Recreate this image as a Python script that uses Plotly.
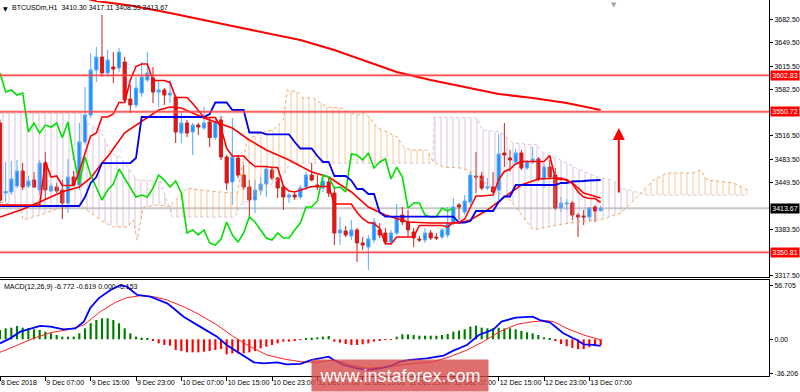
import plotly.graph_objects as go

# ------------------------------------------------------------------ data
title_text = "BTCUSDm,H1  3410.30 3417.11 3408.53 3413.67"
macd_text = "MACD(12,26,9) -6.772 -0.619 0.000 -6.153"

opens = [3534.9, 3435.2, 3436.7, 3445.2, 3466.5, 3445.2, 3453.7, 3439.5, 3477.9, 3438.1,
         3443.8, 3439.5, 3421.0, 3458.0, 3446.6, 3508.0, 3546.3, 3610.3, 3628.8, 3606.1,
         3614.6, 3613.2, 3621.7, 3569.0, 3560.5, 3577.6, 3596.1, 3598.9, 3579.0, 3581.9,
         3574.7, 3571.9, 3520.6, 3534.9, 3522.1, 3532.0, 3527.8, 3536.3, 3514.1, 3539.2,
         3486.5, 3450.9, 3485.1, 3460.8, 3443.8, 3425.3, 3439.5, 3448.0, 3468.0, 3456.6,
         3443.8, 3429.5, 3432.4, 3429.5, 3443.8, 3460.8, 3446.6, 3442.3, 3450.9, 3435.2,
         3378.3, 3381.2, 3374.1, 3382.6, 3364.1, 3358.4, 3368.3, 3382.6, 3378.3, 3365.5,
         3378.3, 3403.9, 3394.0, 3379.8, 3369.8, 3368.3, 3378.3, 3372.6, 3372.6, 3375.5,
         3392.5, 3418.2, 3408.2, 3422.4, 3459.4, 3459.4, 3442.3, 3443.8, 3439.5, 3492.2,
         3485.1, 3479.4, 3492.2, 3470.8, 3479.4, 3483.6, 3455.2, 3472.2, 3460.8, 3413.9,
         3419.6, 3421.0, 3403.9, 3402.5, 3401.1, 3415.3, 3410.30]
highs = [3540.0, 3479.4, 3480.8, 3482.2, 3477.9, 3459.4, 3465.1, 3482.2, 3493.6, 3449.5,
         3449.5, 3453.7, 3483.6, 3466.5, 3534.9, 3586.1, 3634.5, 3643.1, 3688.6, 3638.8,
         3636.0, 3641.6, 3628.8, 3588.9, 3600.4, 3621.7, 3636.0, 3614.6, 3596.1, 3584.7,
         3596.1, 3574.7, 3550.5, 3539.2, 3534.9, 3534.9, 3557.7, 3542.0, 3542.0, 3544.8,
         3489.3, 3542.0, 3489.3, 3475.1, 3453.7, 3453.7, 3458.0, 3472.2, 3470.8, 3458.0,
         3446.6, 3435.2, 3435.2, 3446.6, 3465.1, 3477.9, 3460.8, 3460.8, 3458.0, 3443.8,
         3401.1, 3388.3, 3396.8, 3385.4, 3372.6, 3375.5, 3399.6, 3392.5, 3385.4, 3382.6,
         3419.6, 3415.3, 3411.0, 3385.4, 3374.1, 3385.4, 3382.6, 3378.3, 3385.4, 3415.3,
         3428.1, 3421.0, 3432.4, 3465.1, 3493.6, 3465.1, 3456.6, 3465.1, 3519.2, 3534.9,
         3496.4, 3497.9, 3496.4, 3482.2, 3500.7, 3486.5, 3477.9, 3482.2, 3470.8, 3429.5,
         3426.7, 3423.9, 3406.8, 3411.0, 3415.3, 3418.2, 3417.11]
lows = [3420.0, 3422.4, 3432.4, 3442.3, 3439.5, 3442.3, 3442.3, 3432.4, 3425.3, 3436.7,
        3435.2, 3398.2, 3406.8, 3445.2, 3439.5, 3503.7, 3542.0, 3593.2, 3600.4, 3600.4,
        3591.8, 3607.5, 3564.7, 3549.1, 3556.2, 3571.9, 3593.2, 3563.3, 3557.7, 3560.5,
        3563.3, 3506.4, 3506.4, 3514.9, 3489.3, 3517.8, 3524.9, 3500.7, 3510.7, 3482.2,
        3439.5, 3418.2, 3456.6, 3439.5, 3401.1, 3406.8, 3432.4, 3429.5, 3453.7, 3428.1,
        3411.0, 3421.0, 3425.3, 3426.7, 3439.5, 3451.9, 3439.5, 3436.7, 3429.5, 3361.2,
        3361.2, 3372.6, 3368.3, 3337.0, 3354.1, 3325.6, 3364.1, 3371.2, 3361.2, 3361.2,
        3375.5, 3389.7, 3372.6, 3358.4, 3365.5, 3364.1, 3368.3, 3368.3, 3369.8, 3371.2,
        3389.7, 3396.8, 3403.9, 3418.2, 3435.2, 3439.5, 3439.5, 3435.2, 3425.3, 3472.2,
        3465.1, 3475.1, 3468.0, 3468.0, 3476.5, 3451.9, 3442.3, 3456.6, 3411.0, 3408.2,
        3411.0, 3396.8, 3372.6, 3389.7, 3394.0, 3394.0, 3408.53]
closes = [3425.0, 3437.5, 3455.2, 3466.5, 3443.8, 3452.3, 3443.8, 3477.9, 3439.5, 3445.2,
          3438.1, 3421.0, 3458.0, 3446.6, 3508.0, 3546.3, 3610.3, 3628.8, 3606.1, 3624.6,
          3611.8, 3635.9, 3567.6, 3560.5, 3584.7, 3600.4, 3606.1, 3579.0, 3581.9, 3574.7,
          3577.6, 3522.1, 3534.9, 3520.6, 3531.9, 3529.2, 3534.9, 3514.1, 3536.3, 3486.5,
          3449.5, 3486.5, 3460.8, 3443.8, 3425.3, 3439.5, 3448.0, 3469.4, 3456.6, 3442.3,
          3429.5, 3432.4, 3429.5, 3442.3, 3460.8, 3453.7, 3443.8, 3452.3, 3435.2, 3378.3,
          3382.6, 3375.5, 3382.6, 3364.1, 3361.2, 3369.8, 3394.0, 3375.5, 3365.5, 3378.3,
          3401.1, 3394.0, 3382.6, 3371.2, 3368.3, 3378.3, 3371.2, 3371.2, 3382.6, 3392.5,
          3415.3, 3415.3, 3423.9, 3460.8, 3458.0, 3442.3, 3443.8, 3436.7, 3490.7, 3489.3,
          3482.2, 3492.2, 3470.8, 3479.4, 3483.6, 3455.2, 3472.2, 3458.0, 3413.9, 3421.0,
          3421.0, 3403.9, 3401.1, 3401.1, 3413.9, 3409.6, 3413.67]

# Ichimoku values before the window can be computed
tenkan_pre = [3418.0, 3418.0, 3418.0, 3418.0, 3418.0, 3418.0, 3418.0, 3418.0]
kijun_pre = [3416.7, 3416.7, 3416.7, 3416.7, 3416.7, 3416.7, 3416.7, 3416.7, 3416.7, 3416.7,
             3416.7, 3416.7, 3416.7, 3416.7, 3416.7, 3429.5, 3449.5, 3458.0, 3477.9, 3477.9,
             3477.9, 3477.9, 3477.9, 3477.9, 3485.1]
tenkan_period = 9
kijun_period = 26
chikou_shift = 26

# Senkou spans (bar index, price), crossings shared
span_a_x = [0, 3.6, 4.1, 7.1, 10.6, 14.2, 17.7, 20.0, 22.5, 23.5, 24.2, 24.8, 25.3, 27.8, 29.8,
            33.1, 35.4, 40.6, 41.9, 43.6, 45.9, 48.2, 50.0, 50.7, 52.5, 53.5, 55.3, 56.5, 57.8,
            60.1, 61.8, 63.1, 64.1, 65.3, 66.6, 68.3, 70.1, 71.2, 72.4, 75.4, 76.4, 78.2, 81.2,
            82.5, 87.8, 90.0, 93.1, 94.1, 98.3, 101.9, 105.9, 109.5, 110.7, 113.0, 115.3, 117.8,
            122.3, 123.6, 124.8, 129.4, 131.9]
span_a_y = [3422.4, 3415.3, 3396.8, 3403.9, 3413.9, 3418.2, 3396.8, 3386.9, 3386.9, 3396.8,
            3368.3, 3394.0, 3415.3, 3418.2, 3415.8, 3442.3, 3439.5, 3435.2, 3435.2, 3510.7,
            3520.6, 3524.9, 3539.2, 3581.9, 3579.0, 3570.5, 3570.5, 3563.3, 3557.7, 3556.2,
            3549.1, 3546.3, 3550.5, 3542.0, 3527.8, 3522.1, 3514.9, 3500.7, 3496.4, 3496.4,
            3480.0, 3472.2, 3470.8, 3468.0, 3436.7, 3425.3, 3392.5, 3382.6, 3389.7, 3394.0,
            3396.8, 3406.8, 3415.3, 3434.5, 3453.7, 3463.7, 3463.7, 3468.0, 3453.7, 3449.5,
            3439.5]
span_b_x = [0, 15.1, 15.4, 17.7, 19.5, 21.2, 24.2, 28.3, 29.8, 30.4, 41.5, 42.4, 44.2, 47.7,
            50.0, 51.2, 76.2, 76.4, 76.6, 84.2, 85.1, 88.3, 89.5, 90.6, 94.8, 95.9, 98.9, 102.4,
            105.9, 108.2, 109.5, 113.0, 114.2, 121.3, 131.9]
span_b_y = [3549.1, 3549.1, 3534.9, 3524.9, 3492.2, 3486.5, 3453.7, 3452.3, 3415.8, 3401.1,
            3401.1, 3418.2, 3425.3, 3446.6, 3460.8, 3477.9, 3477.9, 3480.0, 3543.4, 3542.0,
            3524.9, 3522.1, 3513.5, 3506.4, 3503.6, 3492.2, 3482.2, 3468.0, 3456.6, 3453.7,
            3442.3, 3434.5, 3432.4, 3432.4, 3432.4]
cloud_cross = [29.8, 76.4, 113.0]

# moving averages (bar index, price)
ma_x = [0, 4, 7, 11, 14, 16, 18, 19, 22, 25, 28, 30, 32, 34, 36, 41, 44, 47, 51, 55, 58, 62,
        65, 68, 72, 76, 81, 83, 86, 89, 92, 95, 99, 101, 103, 106]
ma_y = [3401.1, 3412.0, 3422.4, 3437.0, 3443.8, 3456.6, 3477.9, 3487.0, 3521.0, 3537.0,
        3553.4, 3557.7, 3556.2, 3549.1, 3542.0, 3527.8, 3510.7, 3496.4, 3482.2, 3465.1,
        3458.0, 3436.7, 3415.3, 3403.9, 3394.0, 3392.5, 3392.5, 3396.8, 3411.0, 3429.5,
        3446.6, 3455.2, 3456.6, 3449.5, 3435.2, 3428.1]
ma_long_x = [10, 17, 23, 30, 41, 53, 59, 65, 70, 76, 82, 88, 94, 100, 106]
ma_long_y = [3722.0, 3708.5, 3702.1, 3691.5, 3673.0, 3653.0, 3638.8, 3621.7, 3607.5, 3596.1,
             3586.1, 3576.1, 3570.5, 3563.3, 3553.4]

levels_red = [3602.83, 3550.72, 3350.81]
last_price = 3413.67
arrow_bar = 109.2
arrow_from = 3433.8
arrow_to = 3527.6

# MACD panel
macd_hist = [9.8, 11.5, 12.2, 14.0, 12.2, 11.5, 10.5, 9.8, 8.0, 6.3,
             4.5, 2.8, 2.8, 2.8, 6.3, 11.5, 16.8, 20.2, 22.0, 22.0,
             20.2, 16.8, 11.5, 6.3, 2.8, 1.7, 1.0, -1.7, -4.2, -5.9,
             -6.6, -11.2, -12.2, -13.6, -13.6, -13.6, -12.9, -12.2, -11.2, -10.1,
             -15.7, -14.7, -14.7, -14.7, -13.6, -12.2, -9.4, -7.7, -5.9, -4.2,
             -2.4, -2.4, -1.7, -0.7, 1.0, 1.7, 2.1, 2.8, 3.5, -2.4,
             -3.5, -4.9, -5.9, -5.9, -5.2, -4.2, -2.4, -1.4, -0.7, -0.3,
             2.8, 5.2, 5.2, 4.5, 3.8, 3.8, 3.8, 3.8, 4.5, 5.6,
             8.0, 9.1, 10.5, 13.3, 14.3, 12.2, 11.5, 11.5, 12.2, 11.5,
             11.5, 10.5, 8.7, 7.3, 6.3, 4.5, 2.1, 1.0, -1.9, -5.0,
             -7.2, -9.0, -10.3, -10.3, -8.2, -7.2, -6.153]
macd_x = [0, 1.8, 3.6, 5.4, 7.1, 8.9, 11.2, 13.3, 14.8, 15.9, 17.4, 19.5, 21.2, 22.4, 24.2,
          26.5, 29.5, 30.6, 32.4, 35.3, 38.3, 40.0, 42.4, 44.8, 46.5, 48.9, 50.6, 53.0, 55.0,
          56.5, 58.0, 58.9, 60.6, 63.0, 64.8, 67.1, 68.9, 70.6, 72.4, 75.3, 78.3, 80.0, 82.4,
          84.5, 87.1, 88.5, 91.0, 94.0, 95.3, 97.1, 99.4, 101.8, 103.0, 104.7, 106.0]
macd_y = [-4.2, 1.0, 8.0, 10.8, 14.0, 13.3, 10.5, 11.5, 18.5, 32.5, 42.9, 51.7, 56.7, 55.1,
          46.4, 44.7, 37.7, 32.5, 23.7, 13.3, 2.8, -5.9, -14.7, -24.1, -25.1, -24.1, -26.2,
          -25.6, -21.6, -19.9, -18.2, -21.6, -26.9, -30.4, -32.1, -30.4, -27.9, -23.4, -21.6,
          -19.9, -17.0, -11.9, -5.9, 4.5, 10.5, 18.5, 22.8, 23.7, 20.2, 17.5, 6.3, -0.7, -5.2,
          -5.9, -6.772]
signal_x = [0, 3.0, 5.9, 8.9, 11.8, 14.8, 17.7, 20.6, 22.4, 24.8, 27.1, 29.5, 32.4, 35.3,
            38.3, 41.2, 44.2, 47.1, 50.1, 53.0, 55.9, 58.9, 61.8, 64.8, 67.7, 70.6, 76.5, 79.4,
            82.4, 85.3, 88.2, 91.2, 94.1, 96.5, 97.7, 100.0, 103.0, 106.0]
signal_y = [-13.6, -5.9, 1.0, 7.0, 9.8, 15.0, 29.0, 39.4, 43.6, 45.7, 44.7, 41.2, 34.2, 25.5,
            15.0, 2.8, -7.7, -16.4, -20.6, -23.4, -24.1, -21.6, -26.9, -30.4, -29.3, -26.9,
            -23.4, -18.2, -11.2, -2.4, 8.0, 15.7, 18.5, 19.5, 18.5, 11.5, 4.5, -0.619]

tick_bars = [0, 8, 16, 24, 32, 40, 48, 56, 64, 72, 80, 88, 96, 104]
tick_labels = ["8 Dec 2018", "9 Dec 07:00", "9 Dec 15:00", "9 Dec 23:00", "10 Dec 07:00",
               "10 Dec 15:00", "10 Dec 23:00", "11 Dec 07:00", "11 Dec 15:00", "11 Dec 23:00",
               "12 Dec 07:00", "12 Dec 15:00", "12 Dec 23:00", "13 Dec 07:00"]
price_ticks = [3682.50, 3649.50, 3615.50, 3582.50, 3516.50, 3483.50, 3449.50, 3383.50, 3317.50]
macd_ticks = [56.705, 0.0, -36.206]
macd_tick_text = ["56.705", "0.00", "-36.206"]
watermark = "www.instaforex.com"

# ------------------------------------------------------------------ derived
n = len(closes)
bars = list(range(n))


def midline(period, i):
    return (max(highs[i - period + 1:i + 1]) + min(lows[i - period + 1:i + 1])) / 2


tenkan = tenkan_pre + [midline(tenkan_period, i) for i in range(len(tenkan_pre), n)]
kijun = kijun_pre + [midline(kijun_period, i) for i in range(len(kijun_pre), n)]
chikou_x = [i - chikou_shift for i in range(chikou_shift, n)]
chikou_y = closes[chikou_shift:]

FONT = "Liberation Sans, Arial, sans-serif"
FS = 7
ORANGE = "#F4A460"
THISTLE = "#D8BFD8"

fig = go.Figure()

# cloud regions (hatched)
bounds = [span_a_x[0]] + cloud_cross + [span_a_x[-1]]
for k in range(len(bounds) - 1):
    lo, hi = bounds[k], bounds[k + 1]
    ax_ = [x for x in span_a_x if lo <= x <= hi]
    ay_ = [y for x, y in zip(span_a_x, span_a_y) if lo <= x <= hi]
    bx_ = [x for x in span_b_x if lo <= x <= hi]
    by_ = [y for x, y in zip(span_b_x, span_b_y) if lo <= x <= hi]
    a_higher = sum(ay_) / len(ay_) > sum(by_) / len(by_)
    col = "rgba(244,164,96,0.6)" if a_higher else "rgba(200,160,200,0.6)"
    fig.add_trace(go.Scatter(
        x=bx_ + ax_[::-1], y=by_ + ay_[::-1], mode="lines", line=dict(width=0),
        fill="toself", fillcolor="rgba(0,0,0,0)",
        fillpattern=dict(shape="|", fgcolor=col, bgcolor="rgba(0,0,0,0)", size=6,
                         solidity=0.18, fillmode="replace"),
        hoverinfo="skip", xaxis="x", yaxis="y"))

fig.add_trace(go.Scatter(x=span_a_x, y=span_a_y, mode="lines",
                         line=dict(color=ORANGE, width=1, dash="dot"), xaxis="x", yaxis="y"))
fig.add_trace(go.Scatter(x=span_b_x, y=span_b_y, mode="lines",
                         line=dict(color=THISTLE, width=1, dash="dot"), xaxis="x", yaxis="y"))

fig.add_trace(go.Candlestick(
    x=bars, open=opens, high=highs, low=lows, close=closes,
    increasing=dict(fillcolor="#1E90FF", line=dict(color="#55AAFF", width=1)),
    decreasing=dict(fillcolor="#EE1111", line=dict(color="#C42222", width=1)),
    xaxis="x", yaxis="y"))

fig.add_trace(go.Scatter(x=ma_x, y=ma_y, mode="lines", line=dict(color="#FF0000", width=1.6),
                         xaxis="x", yaxis="y"))
fig.add_trace(go.Scatter(x=chikou_x, y=chikou_y, mode="lines", line=dict(color="#00E000", width=1.6),
                         xaxis="x", yaxis="y"))
fig.add_trace(go.Scatter(x=bars, y=kijun, mode="lines", line=dict(color="#0000EE", width=1.8),
                         xaxis="x", yaxis="y"))
fig.add_trace(go.Scatter(x=bars, y=tenkan, mode="lines", line=dict(color="#FF0000", width=1.6),
                         xaxis="x", yaxis="y"))
fig.add_trace(go.Scatter(x=ma_long_x, y=ma_long_y, mode="lines", line=dict(color="#FF0000", width=2),
                         xaxis="x", yaxis="y"))

# MACD
fig.add_trace(go.Bar(x=bars, y=macd_hist, width=0.38,
                     marker=dict(color=["#007A00" if v >= 0 else "#FF0000" for v in macd_hist],
                                 line=dict(width=0)),
                     xaxis="x2", yaxis="y2"))
fig.add_trace(go.Scatter(x=signal_x, y=signal_y, mode="lines", line=dict(color="#FF2020", width=1),
                         xaxis="x2", yaxis="y2"))
fig.add_trace(go.Scatter(x=macd_x, y=macd_y, mode="lines", line=dict(color="#0000FF", width=1.8),
                         xaxis="x2", yaxis="y2"))

shapes = [dict(type="line", xref="paper", x0=0, x1=1, yref="y", y0=last_price, y1=last_price,
               line=dict(color="#C8C8C8", width=2), layer="below")]
for lv in levels_red:
    shapes.append(dict(type="line", xref="paper", x0=0, x1=1, yref="y", y0=lv, y1=lv,
                       line=dict(color="rgba(255,120,120,0.45)", width=3), layer="above"))
    shapes.append(dict(type="line", xref="paper", x0=0, x1=1, yref="y", y0=lv, y1=lv,
                       line=dict(color="#FF2A2A", width=1), layer="above"))

annotations = [
    dict(xref="paper", yref="paper", x=0, y=1, xanchor="left", yanchor="top", xshift=10, yshift=-2,
         text=title_text, showarrow=False, font=dict(family=FONT, size=FS, color="black")),
    dict(xref="paper", yref="paper", x=0, y=1, xanchor="left", yanchor="top", xshift=1, yshift=-3,
         text="▼", showarrow=False, font=dict(family="DejaVu Sans", size=6, color="black")),
    dict(xref="paper", yref="paper", x=614 / 769, y=1, xanchor="center", yanchor="top", yshift=1,
         text="▼", showarrow=False, font=dict(family="DejaVu Sans", size=7, color="#A8A8A8")),
    dict(xref="paper", yref="y2 domain", x=0, y=1, xanchor="left", yanchor="top", xshift=2, yshift=-1,
         text=macd_text, showarrow=False, font=dict(family=FONT, size=FS, color="black")),
    dict(xref="x", yref="y", x=arrow_bar, y=arrow_to, axref="x", ayref="y", ax=arrow_bar, ay=arrow_from,
         text="", showarrow=True, arrowhead=2, arrowsize=1.2, arrowwidth=2, arrowcolor="#FF0000"),
]
for lv in levels_red:
    annotations.append(dict(xref="paper", yref="y", x=1, y=lv, xanchor="left", yanchor="middle",
                            xshift=1, text=f"{lv:.2f}", showarrow=False, bgcolor="#FF0000",
                            width=28, height=9, borderpad=0,
                            font=dict(family=FONT, size=FS, color="white")))
annotations.append(dict(xref="paper", yref="y", x=1, y=last_price, xanchor="left", yanchor="middle",
                        xshift=1, text=f"{last_price:.2f}", showarrow=False, bgcolor="#000000",
                        width=28, height=9, borderpad=0,
                        font=dict(family=FONT, size=FS, color="white")))
annotations.append(dict(xref="paper", yref="paper", x=400 / 769, y=-16 / 376, xanchor="center",
                        yanchor="bottom", text=watermark, showarrow=False,
                        bgcolor="rgba(214,70,70,0.78)", width=176, height=31, borderpad=0,
                        font=dict(family="Liberation Sans, Arial, sans-serif", size=18, color="white")))

xr = [0.0, 135.7]
axis_common = dict(showgrid=False, zeroline=False, showline=True, linecolor="#000000",
                   linewidth=1, mirror=True)
fig.update_layout(
    width=800, height=392,
    margin=dict(l=0, r=31, t=0, b=16, pad=0),
    paper_bgcolor="white", plot_bgcolor="white",
    showlegend=False, boxgap=0.25, boxgroupgap=0.25,
    font=dict(family=FONT, size=FS, color="black"),
    shapes=shapes, annotations=annotations,
    xaxis=dict(domain=[0, 1], range=xr, anchor="y", showticklabels=False, ticks="",
               rangeslider=dict(visible=False), **axis_common),
    xaxis2=dict(domain=[0, 1], range=xr, anchor="y2", tickvals=tick_bars, ticktext=tick_labels,
                ticks="outside", ticklen=4, tickcolor="black", ticklabelposition="outside right",
                tickangle=0, tickfont=dict(family=FONT, size=FS), **axis_common),
    yaxis=dict(domain=[0.2633, 1], range=[3315.67, 3709.97], side="right", tickvals=price_ticks,
               ticktext=[f"{v:.2f}" for v in price_ticks], ticks="outside", ticklen=3,
               tickcolor="black", tickfont=dict(family=FONT, size=FS), **axis_common),
    yaxis2=dict(domain=[0, 0.2553], range=[-38.4, 62.1], side="right", tickvals=macd_ticks,
                ticktext=macd_tick_text, ticks="outside", ticklen=3, tickcolor="black",
                tickfont=dict(family=FONT, size=FS), **axis_common),
)

fig.write_html("out.html")
